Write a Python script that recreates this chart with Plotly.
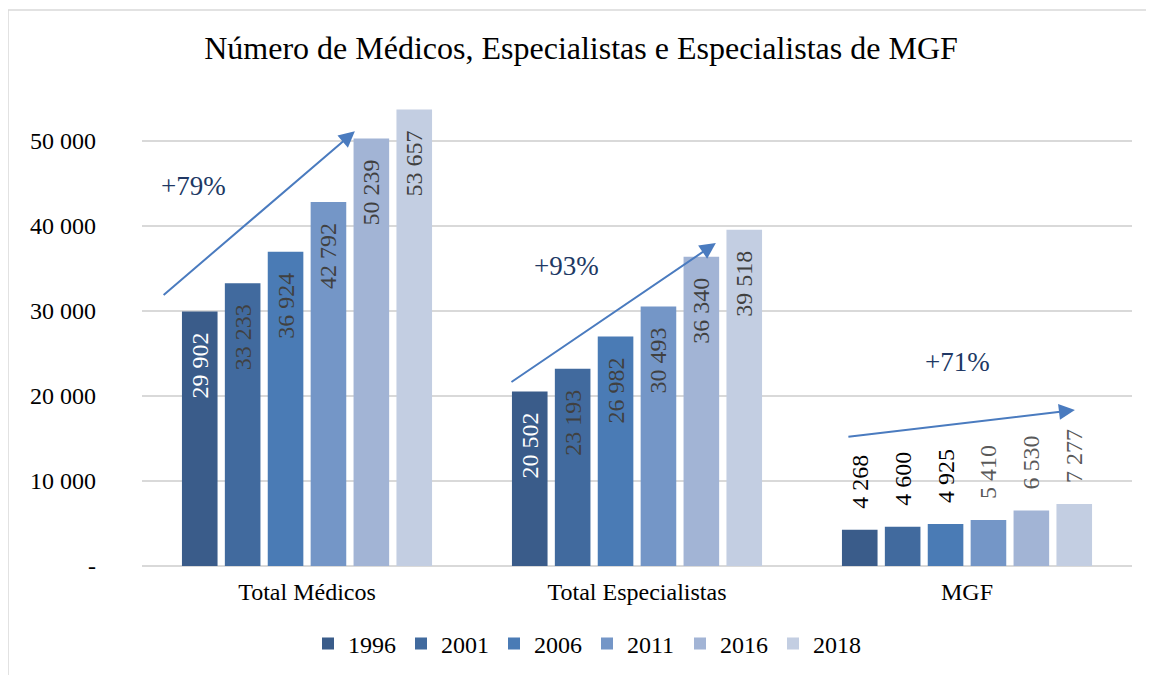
import plotly.graph_objects as go

categories = ["Total Médicos", "Total Especialistas", "MGF"]
years = ["1996", "2001", "2006", "2011", "2016", "2018"]
values = {
    "1996": [29902, 20502, 4268],
    "2001": [33233, 23193, 4600],
    "2006": [36924, 26982, 4925],
    "2011": [42792, 30493, 5410],
    "2016": [50239, 36340, 6530],
    "2018": [53657, 39518, 7277],
}
colors = ["#3A5C8A", "#416A9E", "#4A7BB5", "#7496C7", "#A2B4D5", "#C3CEE2"]
label_colors_inside = ["#FFFFFF", "#404040", "#404040", "#404040", "#404040", "#404040"]
label_colors_mgf = ["#000000", "#000000", "#000000", "#595959", "#595959", "#595959"]

y_tickvals = [0, 10000, 20000, 30000, 40000, 50000]
y_ticktext = ["-", "10 000", "20 000", "30 000", "40 000", "50 000"]

growth_labels = ["+79%", "+93%", "+71%"]

FONT = "Liberation Serif, Times New Roman, serif"
NB = "\u00a0\u00a0\u00a0"

fig = go.Figure()
for i, yr in enumerate(years):
    fig.add_trace(go.Bar(
        name=yr,
        x=categories,
        y=values[yr],
        marker=dict(color=colors[i], line=dict(width=0)),
        texttemplate=["%{y:,}" + NB, "%{y:,}" + NB, NB + "%{y:,}"],
        textposition=["inside", "inside", "outside"],
        insidetextanchor="end",
        textangle=-90,
        textfont=dict(family=FONT, size=24,
                      color=[label_colors_inside[i], label_colors_inside[i], label_colors_mgf[i]]),
        constraintext="none",
        cliponaxis=False,
    ))

# page body has an 8px margin: figure origin sits at (8, 8) in the window
OFF = 8
W, H = 1154 - OFF, 675 - OFF
L, R, T, B = 142 - OFF, 22, 98 - OFF, 109
pw = W - L - R
ph = H - T - B

def px2paper(px, py):
    return (px - OFF - L) / pw, (H - B - (py - OFF)) / ph

# arrows (tail -> head), in data coordinates
arrows = [
    ((-0.439, 31700), (0.145, 51100)),
    ((0.615, 21500), (1.239, 37950)),
    ((1.636, 15160), (2.327, 18330)),
]
text_pos = [(-0.343, 44600), (0.785, 35200), (1.97, 24000)]
for (t, h) in arrows:
    fig.add_annotation(x=h[0], y=h[1], ax=t[0], ay=t[1], xref="x", yref="y",
                       axref="x", ayref="y", showarrow=True, arrowhead=2,
                       arrowsize=1.6, arrowwidth=2, arrowcolor="#4A7BBF", text="")
for (p, lab) in zip(text_pos, growth_labels):
    fig.add_annotation(x=p[0], y=p[1], xref="x", yref="y", text=lab, showarrow=False,
                       font=dict(family=FONT, size=27, color="#203864"))

# outer chart border
x0, y0 = px2paper(8, 10)
x1, y1 = px2paper(1200, 720)
fig.add_shape(type="rect", xref="paper", yref="paper", x0=x0, y0=y1, x1=x1, y1=y0,
              line=dict(color="#D9D9D9", width=1.5), fillcolor="rgba(0,0,0,0)", layer="below")

fig.update_layout(
    width=W, height=H,
    margin=dict(l=L, r=R, t=T, b=B),
    paper_bgcolor="white", plot_bgcolor="white",
    separators=", ",
    barmode="group", bargap=0.22, bargroupgap=0.17,
    title=dict(text="Número de Médicos, Especialistas e Especialistas de MGF",
               x=0.5, xanchor="center", y=1 - (48 - OFF) / H, yanchor="middle",
               font=dict(family=FONT, size=32, color="#000000")),
    font=dict(family=FONT, size=24, color="#000000"),
    legend=dict(orientation="h", x=(587 - OFF) / W, xanchor="center", xref="container",
                y=(H - (644 - OFF)) / H, yref="container", yanchor="middle",
                font=dict(family=FONT, size=24, color="#000000"),
                itemwidth=30, traceorder="normal", entrywidth=48),
    xaxis=dict(showgrid=False, showline=False, ticks="",
               tickfont=dict(family=FONT, size=24, color="#000000"),
               ticklabelstandoff=9),
    yaxis=dict(range=[0, 55000], tickvals=y_tickvals, ticktext=y_ticktext,
               showgrid=True, gridcolor="#D9D9D9", gridwidth=1.5,
               zeroline=True, zerolinecolor="#D9D9D9", zerolinewidth=1.5,
               showline=False, ticks="",
               tickfont=dict(family=FONT, size=24, color="#000000"),
               ticklabelstandoff=45),
)

fig.write_html("out.html")
